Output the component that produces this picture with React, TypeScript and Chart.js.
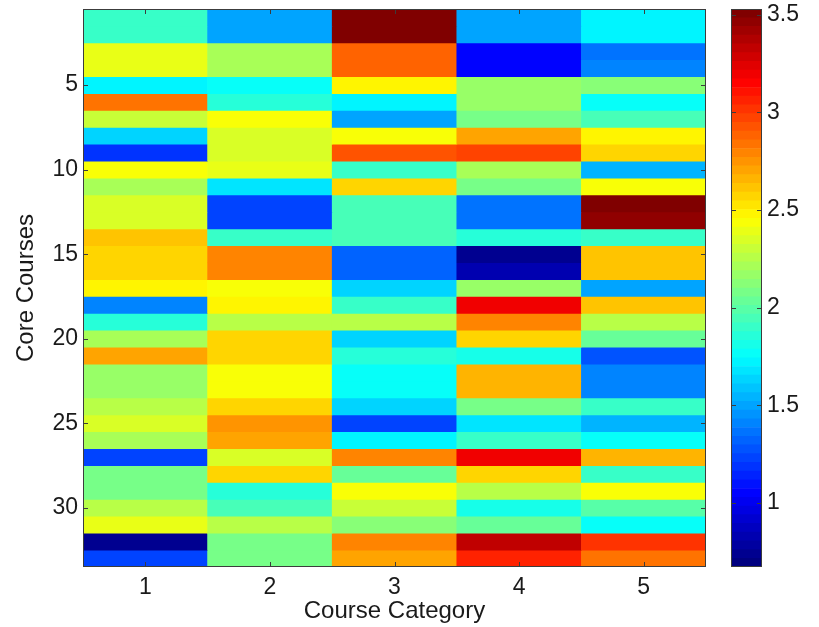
import React, { useEffect, useRef } from "react";
import { Chart, registerables } from "chart.js";

Chart.register(...registerables);

// ---------- data ----------
const categories = ["1", "2", "3", "4", "5"];
const courses = [
  1, 2, 3, 4, 5, 6, 7, 8, 9, 10, 11, 12, 13, 14, 15, 16, 17, 18, 19, 20, 21, 22,
  23, 24, 25, 26, 27, 28, 29, 30, 31, 32, 33,
];
const category1 = [
  1.91, 1.91, 2.39, 2.39, 1.70, 2.86, 2.30, 1.61, 1.18, 2.44, 2.22, 2.35, 2.35,
  2.63, 2.59, 2.56, 2.48, 1.41, 1.86, 2.22, 2.71, 2.17, 2.17, 2.26, 2.35, 2.22,
  1.23, 2.08, 2.08, 2.26, 2.40, 0.73, 1.23,
];
const category2 = [
  1.50, 1.50, 2.22, 2.22, 1.77, 1.86, 2.44, 2.35, 2.35, 2.40, 1.68, 1.23, 1.23,
  1.90, 2.80, 2.80, 2.44, 2.48, 2.26, 2.55, 2.55, 2.44, 2.44, 2.59, 2.75, 2.71,
  2.35, 2.59, 1.86, 1.94, 2.26, 2.08, 2.08,
];
const category3 = [
  3.53, 3.53, 2.89, 2.89, 2.48, 1.72, 1.50, 2.44, 2.91, 1.90, 2.59, 1.94, 1.94,
  1.94, 1.34, 1.34, 1.63, 1.90, 2.26, 1.63, 1.86, 1.77, 1.77, 1.61, 1.23, 1.72,
  2.81, 2.04, 2.44, 2.30, 2.12, 2.81, 2.71,
];
const category4 = [
  1.50, 1.50, 1.05, 1.05, 2.17, 2.17, 2.08, 2.71, 2.98, 2.22, 2.08, 1.36, 1.36,
  1.86, 0.76, 0.82, 2.17, 3.20, 2.80, 2.55, 1.81, 2.67, 2.64, 2.08, 1.68, 1.90,
  3.20, 2.59, 2.26, 1.81, 2.04, 3.35, 3.07,
];
const category5 = [
  1.72, 1.72, 1.36, 1.41, 2.12, 1.77, 1.94, 2.48, 2.59, 1.54, 2.44, 3.50, 3.46,
  1.90, 2.63, 2.63, 1.50, 2.62, 2.26, 2.04, 1.27, 1.41, 1.43, 1.90, 1.54, 1.77,
  2.64, 1.90, 2.44, 1.99, 1.77, 3.02, 2.82,
];
const yTickValues = [5, 10, 15, 20, 25, 30];
const colorTickValues = [1, 1.5, 2, 2.5, 3, 3.5];
const colorTickLabels = ["1", "1.5", "2", "2.5", "3", "3.5"];
const colorMin = 0.672;
const colorMax = 3.53;

const columns = [category1, category2, category3, category4, category5];

// ---------- helpers ----------
const LEVELS = 64;
function clamp01(v: number) {
  return Math.max(0, Math.min(1, v));
}
function jetLevel(idx: number) {
  const t = idx / (LEVELS - 1);
  const r = clamp01(1.5 - Math.abs(4 * t - 3));
  const g = clamp01(1.5 - Math.abs(4 * t - 2));
  const b = clamp01(1.5 - Math.abs(4 * t - 1));
  return `rgb(${Math.round(r * 255)},${Math.round(g * 255)},${Math.round(b * 255)})`;
}
function jet(v: number) {
  const t = (v - colorMin) / (colorMax - colorMin);
  const idx = Math.max(0, Math.min(LEVELS - 1, Math.floor(t * LEVELS)));
  return jetLevel(idx);
}

const FONT = "'Liberation Sans', Arial, Helvetica, sans-serif";
const TEXT = "#1a1a1a";

function noScalePadding(s: any) {
  s.paddingTop = 0;
  s.paddingBottom = 0;
  s.paddingLeft = 0;
  s.paddingRight = 0;
}

function framePlugin(drawX: boolean) {
  return {
    id: "frame",
    afterDatasetsDraw(chart: any) {
      const { ctx, chartArea } = chart;
      const { left, right, top, bottom } = chartArea;
      ctx.save();
      ctx.strokeStyle = "#3c3c3c";
      ctx.lineWidth = 1;
      const tl = 5;
      ctx.beginPath();
      if (drawX) {
        const xs = chart.scales.x;
        xs.ticks.forEach((_: any, i: number) => {
          const px = Math.round(xs.getPixelForTick(i)) + 0.5;
          ctx.moveTo(px, top);
          ctx.lineTo(px, top + tl);
          ctx.moveTo(px, bottom);
          ctx.lineTo(px, bottom - tl);
        });
      }
      const ys = chart.scales.y;
      ys.ticks.forEach((_: any, i: number) => {
        const py = Math.round(ys.getPixelForTick(i)) + 0.5;
        ctx.moveTo(left, py);
        ctx.lineTo(left + tl, py);
        ctx.moveTo(right, py);
        ctx.lineTo(right - tl, py);
      });
      ctx.stroke();
      ctx.strokeRect(left + 0.5, top + 0.5, right - left - 1, bottom - top - 1);
      ctx.restore();
    },
  };
}

export default function App() {
  const mainRef = useRef<HTMLCanvasElement | null>(null);
  const barRef = useRef<HTMLCanvasElement | null>(null);

  useEffect(() => {
    const datasets = courses.map((row, i) => ({
      label: `Course ${row}`,
      data: categories.map(() => [row - 0.5, row + 0.5]),
      backgroundColor: columns.map((col) => jet(col[i])),
      borderWidth: 0,
      grouped: false,
      barPercentage: 1,
      categoryPercentage: 1,
    }));

    const main = new Chart(mainRef.current as HTMLCanvasElement, {
      type: "bar",
      data: { labels: categories, datasets: datasets as any },
      options: {
        responsive: false,
        animation: false,
        layout: { padding: { left: 0, top: 9, right: 6, bottom: 0 } },
        plugins: { legend: { display: false }, tooltip: { enabled: false } },
        scales: {
          x: {
            type: "category",
            offset: true,
            grid: { display: false, drawTicks: false },
            border: { display: false },
            ticks: { padding: 7, color: TEXT, font: { family: FONT, size: 23 } },
            title: {
              display: true,
              text: "Course Category",
              color: TEXT,
              font: { family: FONT, size: 24 },
              padding: { top: 0, bottom: 1 },
            },
            afterFit: (s: any) => {
              s.height = 60;
              noScalePadding(s);
            },
          },
          y: {
            type: "linear",
            reverse: true,
            min: 0.5,
            max: 33.5,
            grid: { display: false, drawTicks: false },
            border: { display: false },
            afterBuildTicks: (s: any) => {
              s.ticks = yTickValues.map((v) => ({ value: v }));
            },
            ticks: { padding: 5, color: TEXT, font: { family: FONT, size: 23 } },
            title: {
              display: true,
              text: "Core Courses",
              color: TEXT,
              font: { family: FONT, size: 24 },
              padding: { top: 12, bottom: 0 },
            },
            afterFit: (s: any) => {
              s.width = 83;
              noScalePadding(s);
            },
          },
        },
      },
      plugins: [framePlugin(true)],
    });

    const step = (colorMax - colorMin) / LEVELS;
    const levelDatasets = Array.from({ length: LEVELS }, (_, k) => ({
      label: `level ${k}`,
      data: [[colorMin + k * step, colorMin + (k + 1) * step]],
      backgroundColor: jetLevel(k),
      borderWidth: 0,
      grouped: false,
      barPercentage: 1,
      categoryPercentage: 1,
    }));

    const bar = new Chart(barRef.current as HTMLCanvasElement, {
      type: "bar",
      data: { labels: [""], datasets: levelDatasets as any },
      options: {
        responsive: false,
        animation: false,
        layout: { padding: { left: 19, top: 9, right: 0, bottom: 60 } },
        plugins: { legend: { display: false }, tooltip: { enabled: false } },
        scales: {
          x: { type: "category", offset: true, display: false },
          y: {
            type: "linear",
            position: "right",
            min: colorMin,
            max: colorMax,
            grid: { display: false, drawTicks: false },
            border: { display: false },
            afterBuildTicks: (s: any) => {
              s.ticks = colorTickValues.map((v) => ({ value: v }));
            },
            ticks: {
              padding: 5,
              color: TEXT,
              font: { family: FONT, size: 23 },
              callback: (value: any) => {
                const i = colorTickValues.indexOf(Number(value));
                return i >= 0 ? colorTickLabels[i] : String(value);
              },
            },
            afterFit: (s: any) => {
              s.width = 57;
              noScalePadding(s);
            },
          },
        },
      },
      plugins: [framePlugin(false)],
    });

    return () => {
      main.destroy();
      bar.destroy();
    };
  }, []);

  return (
    <div style={{ position: "absolute", left: 0, top: 0, width: 819, height: 627, background: "#fff" }}>
      <canvas
        ref={mainRef}
        width={712}
        height={627}
        style={{ position: "absolute", left: 0, top: 0, width: 712, height: 627 }}
      />
      <canvas
        ref={barRef}
        width={107}
        height={627}
        style={{ position: "absolute", left: 712, top: 0, width: 107, height: 627 }}
      />
    </div>
  );
}
